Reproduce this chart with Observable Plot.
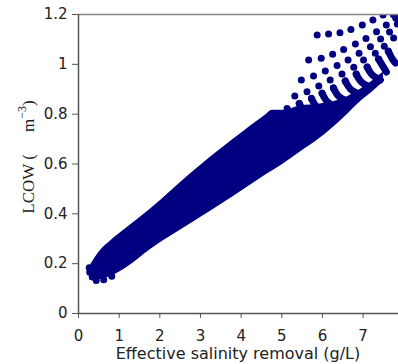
<!DOCTYPE html>
<html>
<head>
<meta charset="utf-8">
<script src="https://cdn.jsdelivr.net/npm/d3@7"></script>
<script src="https://cdn.jsdelivr.net/npm/@observablehq/plot@0.6"></script>
<style>
  html, body { margin: 0; padding: 0; background: #fff; }
  #chart { width: 398px; height: 364px; }
</style>
</head>
<body>
<div id="chart"></div>
<script>
// ---- data (x: effective salinity removal g/L, y: LCOW) ----
const xTicks = [0, 1, 2, 3, 4, 5, 6, 7];
const xTickLabels = ["0", "1", "2", "3", "4", "5", "6", "7"];
const yTicks = [0, 0.2, 0.4, 0.6, 0.8, 1.0, 1.2];
const yTickLabels = ["0", "0.2", "0.4", "0.6", "0.8", "1", "1.2"];
const xTitle = "Effective salinity removal (g/L)";

// dense band of overlapping points: outer envelope
const bandX    = [0.300, 0.534, 0.780, 1.199, 1.765, 2.749, 3.783, 4.226, 4.595, 4.767, 5.038, 5.456, 5.948, 6.490, 6.982, 7.228, 7.499];
const bandLow  = [0.152, 0.136, 0.148, 0.186, 0.256, 0.359, 0.467, 0.515, 0.555, 0.572, 0.600, 0.648, 0.704, 0.780, 0.857, 0.889, 0.929];
const bandHigh = [0.196, 0.252, 0.290, 0.345, 0.418, 0.560, 0.696, 0.752, 0.796, 0.816, 0.816, 0.833, 0.841, 0.861, 0.905, 0.933, 0.969];

// individual points at the low-salinity end
const edgeX = [0.263, 0.276, 0.337, 0.436, 0.620, 0.817];
const edgeY = [0.184, 0.166, 0.146, 0.132, 0.135, 0.150];

// separated rows of points at high salinity removal (top right)
const rowAX = [5.87, 6.15, 6.43, 6.70, 6.98, 7.24, 7.49, 7.74];
const rowAY = [1.118, 1.122, 1.127, 1.140, 1.158, 1.178, 1.198, 1.200];
const rowBX = [5.66, 5.97, 6.25, 6.52, 6.81, 7.07, 7.33, 7.57, 7.80];
const rowBY = [1.017, 1.024, 1.040, 1.060, 1.082, 1.104, 1.131, 1.158, 1.186];
const rowCX = [5.48, 5.78, 6.07, 6.36, 6.63, 6.90, 7.18, 7.43, 7.65, 7.84];
const rowCY = [0.937, 0.953, 0.973, 0.995, 1.017, 1.044, 1.071, 1.102, 1.130, 1.162];
const rowDX = [5.32, 5.62, 5.91, 6.19, 6.48, 6.77, 7.01, 7.30, 7.52, 7.75];
const rowDY = [0.873, 0.890, 0.913, 0.937, 0.961, 0.988, 1.017, 1.044, 1.073, 1.106];
const rowEX = [5.13, 5.43, 5.73, 5.99, 6.27, 6.56, 6.83, 7.10, 7.38, 7.62];
const rowEY = [0.823, 0.843, 0.863, 0.884, 0.905, 0.933, 0.961, 0.989, 1.021, 1.053];

// merged tails of each sweep running from row E down into the band
const tailMidX = [5.555, 5.850, 6.114, 6.392, 6.687, 6.958, 7.228, 7.499, 7.721];
const tailMidY = [0.811, 0.831, 0.851, 0.873, 0.901, 0.929, 0.957, 0.989, 1.021];
const tailEndX = [5.752, 6.047, 6.311, 6.589, 6.884, 7.155, 7.425, 7.573, 7.795];
const tailEndY = [0.791, 0.811, 0.831, 0.853, 0.881, 0.909, 0.937, 0.969, 1.005];

// ---- build tables ----
const band = bandX.map((x, i) => ({x, lo: bandLow[i], hi: bandHigh[i]}));
const dots = [];
edgeX.forEach((x, i) => dots.push({x, y: edgeY[i]}));
[[rowAX, rowAY], [rowBX, rowBY], [rowCX, rowCY], [rowDX, rowDY], [rowEX, rowEY]]
  .forEach(([xs, ys]) => xs.forEach((x, i) => dots.push({x, y: ys[i]})));
const tails = [];
tailMidX.forEach((_, i) => {
  tails.push({k: i, x: rowEX[i + 1], y: rowEY[i + 1]});
  tails.push({k: i, x: tailMidX[i], y: tailMidY[i]});
  tails.push({k: i, x: tailEndX[i], y: tailEndY[i]});
});

const navy = "#000080";
const axisGray = "#555555";

const chart = Plot.plot({
  width: 398,
  height: 364,
  marginTop: 14,
  marginBottom: 51,
  marginLeft: 78,
  marginRight: 0,
  style: {fontFamily: "'DejaVu Sans', Verdana, sans-serif", fontSize: "15px", color: "#222", background: "#fff"},
  x: {domain: [0, 7.87]},
  y: {domain: [0, 1.2]},
  marks: [
    Plot.areaY(band, {x: "x", y1: "lo", y2: "hi", fill: navy, curve: "monotone-x"}),
    Plot.line(tails, {x: "x", y: "y", z: "k", stroke: navy, strokeWidth: 7, strokeLinecap: "round", strokeLinejoin: "round", curve: "catmull-rom", clip: true}),
    Plot.dot(dots, {x: "x", y: "y", r: 3.5, fill: navy, stroke: null, clip: true}),
    Plot.ruleY([1.2], {stroke: "#888", strokeWidth: 1.5}),
    Plot.ruleX([0], {stroke: axisGray, strokeWidth: 1.5}),
    Plot.ruleY([0], {stroke: axisGray, strokeWidth: 1.5}),
    Plot.axisX({ticks: xTicks, tickFormat: (d, i) => xTickLabels[i], tickSize: 5, tickPadding: 12, stroke: axisGray, label: null}),
    Plot.axisY({ticks: yTicks, tickFormat: (d, i) => yTickLabels[i], tickSize: 6, tickPadding: 5, stroke: axisGray, label: null})
  ]
});
document.getElementById("chart").appendChild(chart);

const svg = d3.select(chart);
// x-axis title
svg.append("text")
  .attr("x", 238).attr("y", 359)
  .attr("text-anchor", "middle")
  .attr("font-family", "'DejaVu Sans', Verdana, sans-serif")
  .attr("font-size", 16)
  .attr("fill", "#222")
  .text(xTitle);
// y-axis title with a superscript
const t = svg.append("text")
  .attr("transform", "translate(33.5,157) rotate(-90)")
  .attr("text-anchor", "middle")
  .attr("font-family", "'Liberation Serif', 'DejaVu Serif', serif")
  .attr("font-size", 17)
  .attr("fill", "#222");
t.append("tspan").text("LCOW (");
t.append("tspan").attr("dx", 22).text("m");
t.append("tspan").attr("dy", -8).attr("font-size", 12).text("\u22123");
t.append("tspan").attr("dy", 8).text(")");
</script>
</body>
</html>
